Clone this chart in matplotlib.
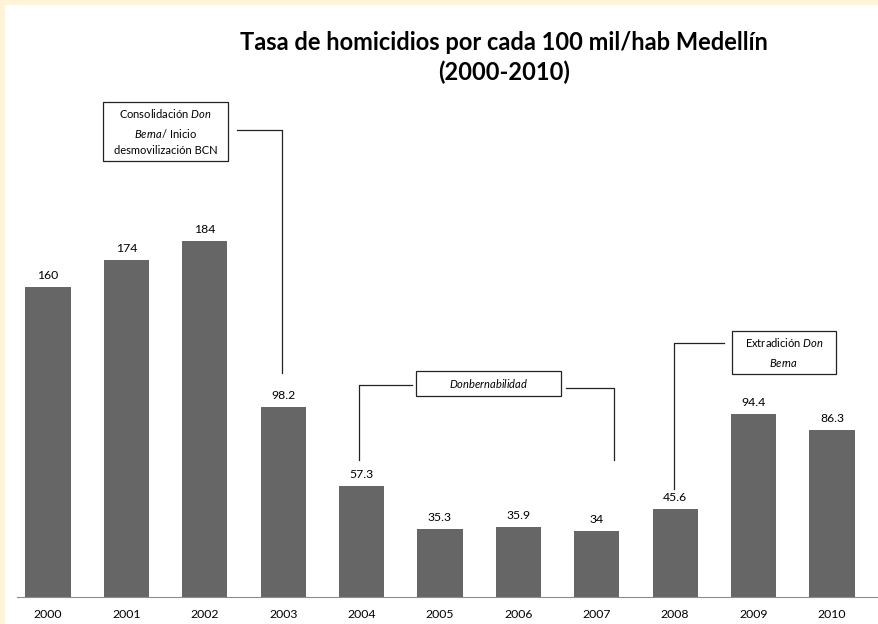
import matplotlib.pyplot as plt
from matplotlib.patches import Rectangle

plt.rcParams['font.family'] = ['Lato', 'DejaVu Sans']
plt.rcParams['mathtext.fontset'] = 'custom'
plt.rcParams['mathtext.it'] = 'Lato:italic'
plt.rcParams['mathtext.rm'] = 'Lato'

years = ['2000', '2001', '2002', '2003', '2004', '2005', '2006', '2007', '2008', '2009', '2010']
tasa = [160, 174, 184, 98.2, 57.3, 35.3, 35.9, 34, 45.6, 94.4, 86.3]
etiquetas = ['160', '174', '184', '98.2', '57.3', '35.3', '35.9', '34', '45.6', '94.4', '86.3']

fig = plt.figure(figsize=(8.79, 6.24), dpi=100)
fig.patch.set_facecolor('#fff4d6')
fig.patches.append(Rectangle((5 / 879, 0), 1, 619 / 624, transform=fig.transFigure,
                             facecolor='white', edgecolor='none', zorder=-5))

ax = fig.add_axes([17 / 879, 27 / 624, 862 / 879, 581 / 624])
ax.set_facecolor('none')
ax.set_zorder(2)
x = range(len(years))
ax.bar(x, tasa, width=0.575, color='#666666')
for i, v in enumerate(tasa):
    ax.annotate(etiquetas[i], (i, v), xytext=(0, 6), textcoords='offset pixels',
                ha='center', va='bottom', fontsize=8.8)

ax.set_xlim(-0.395, 10.6)
ax.set_ylim(0, 300)
ax.set_xticks(list(x))
ax.set_xticklabels(years, fontsize=8.8)
ax.tick_params(axis='x', length=0, pad=9)
ax.set_yticks([])
for s in ['top', 'right', 'left']:
    ax.spines[s].set_visible(False)
ax.spines['bottom'].set_color('#8c8c8c')


def px(x_pix, y_pix):
    # pixel -> data
    return (x_pix - 48) / 78.4, (597 - y_pix) / 1.9375


def linea(puntos):
    xs, ys = zip(*[px(a, b) for a, b in puntos])
    ax.plot(xs, ys, color='#222222', lw=0.9, clip_on=False)


def caja(x0, y0, x1, y1, texto, lsp=1.5):
    xa, ya = px(x0, y1)
    xb, yb = px(x1, y0)
    ax.add_patch(Rectangle((xa, ya), xb - xa, yb - ya, facecolor='white',
                           edgecolor='#222222', lw=0.9, clip_on=False, zorder=3))
    ax.text((xa + xb) / 2, (ya + yb) / 2, texto, ha='center', va='center',
            fontsize=8, linespacing=lsp, zorder=4)


caja(103, 102, 228, 161, 'Consolidación $Don$\n$Berna$/ Inicio\ndesmovilización BCN', 1.6)
linea([(237, 130), (282, 130), (282, 373)])

caja(416, 371, 561, 396, '$Donbernabilidad$')
linea([(412, 385), (359, 385), (359, 460)])
linea([(566, 388), (614, 388), (614, 460)])

caja(732, 331, 836, 374, 'Extradición $Don$\n$Berna$', 1.8)
linea([(724, 343), (674, 343), (674, 489)])

fig.text(504 / 879, 1 - 43 / 624, 'Tasa de homicidios por cada 100 mil/hab Medellín',
         ha='center', va='center', fontsize=17, fontweight='bold')
fig.text(504 / 879, 1 - 72 / 624, '(2000-2010)',
         ha='center', va='center', fontsize=17, fontweight='bold')

fig.savefig('out.png', dpi=100)
